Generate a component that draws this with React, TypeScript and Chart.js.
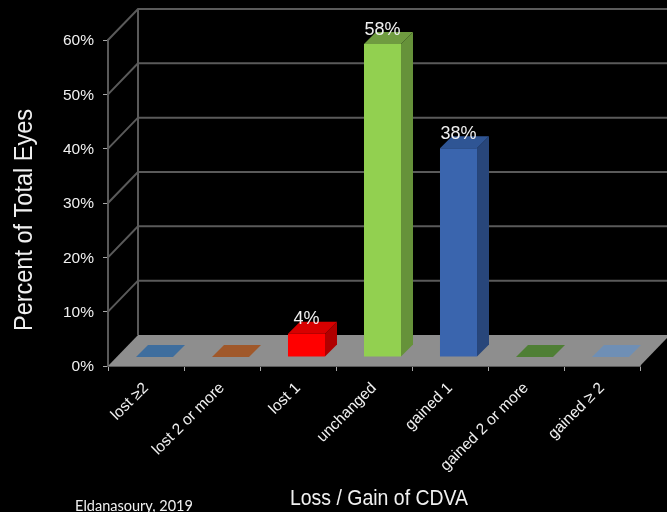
import React, { useEffect, useRef } from "react";
import { Chart, registerables } from "chart.js";

Chart.register(...registerables);

const categories = ["lost ≥2", "lost 2 or more", "lost 1", "unchanged", "gained 1", "gained 2 or more", "gained ≥ 2"];
const percentEyes = [0, 0, 4.3, 57.6, 38.4, 0, 0];
const frontColors = ["#3F6E9E", "#A0582A", "#FF0000", "#92D050", "#3A65AE", "#4F7F35", "#6F8FB5"];
const topColors = ["#3F6E9E", "#A0582A", "#D80000", "#6F9B40", "#2F5594", "#4F7F35", "#6F8FB5"];
const sideColors = ["#3F6E9E", "#A0582A", "#B00000", "#66923A", "#28467A", "#4F7F35", "#6F8FB5"];
const yTitle = "Percent of Total Eyes";
const xTitle = "Loss / Gain of CDVA";
const credit = "Eldanasoury, 2019";

const FONT = "'Liberation Sans', Arial, sans-serif";
const TEXT = "#F0F0F0";
const WALL_DX = 30;
const WALL_DY = 31;
const BAR_DX = 8.5;
const BAR_DY = 9;
const BAR_DEPTH = 12;
const LINE = "#5a5a5a";

const poly = (ctx: CanvasRenderingContext2D, pts: number[][], fill: string) => {
  ctx.beginPath();
  pts.forEach(([x, y], i) => (i ? ctx.lineTo(x, y) : ctx.moveTo(x, y)));
  ctx.closePath();
  ctx.fillStyle = fill;
  ctx.fill();
};

const box3d = {
  id: "box3d",
  beforeDatasetsDraw(chart: any) {
    const { ctx, chartArea: a, scales } = chart;
    const y = scales.y;
    ctx.save();
    ctx.strokeStyle = LINE;
    ctx.lineWidth = 2;
    y.ticks.forEach((t: any) => {
      const py = y.getPixelForValue(t.value);
      if (t.value > 0) {
        ctx.beginPath();
        ctx.moveTo(a.left, py);
        ctx.lineTo(a.left + WALL_DX, py - WALL_DY);
        ctx.lineTo(chart.width, py - WALL_DY);
        ctx.stroke();
      }
    });
    ctx.beginPath();
    ctx.moveTo(a.left + WALL_DX, a.top - WALL_DY);
    ctx.lineTo(a.left + WALL_DX, a.bottom - WALL_DY);
    ctx.stroke();
    poly(
      ctx,
      [
        [a.left, a.bottom],
        [a.right, a.bottom],
        [a.right + WALL_DX, a.bottom - WALL_DY],
        [a.left + WALL_DX, a.bottom - WALL_DY],
      ],
      "#8E8E8E"
    );
    ctx.restore();
  },
  beforeDatasetDraw(chart: any, args: any) {
    const { ctx } = chart;
    ctx.save();
    ctx.translate(BAR_DX, -BAR_DY);
    args.meta.data.forEach((bar: any, i: number) => {
      const { x, y, base, width } = bar.getProps(["x", "y", "base", "width"], true);
      const l = x - width / 2;
      const r = x + width / 2;
      if (percentEyes[i] > 0) {
        poly(ctx, [[r, y], [r + BAR_DEPTH, y - BAR_DEPTH], [r + BAR_DEPTH, base - BAR_DEPTH], [r, base]], sideColors[i]);
      }
      poly(ctx, [[l, y], [r, y], [r + BAR_DEPTH, y - BAR_DEPTH], [l + BAR_DEPTH, y - BAR_DEPTH]], topColors[i]);
    });
  },
  afterDatasetDraw(chart: any, args: any) {
    const { ctx } = chart;
    ctx.fillStyle = TEXT;
    ctx.font = `18px ${FONT}`;
    ctx.textAlign = "center";
    ctx.textBaseline = "middle";
    args.meta.data.forEach((bar: any, i: number) => {
      if (percentEyes[i] > 0) ctx.fillText(`${Math.round(percentEyes[i])}%`, bar.x, bar.y - 14.5);
    });
    ctx.restore();
  },
  afterDraw(chart: any) {
    const { ctx } = chart;
    ctx.save();
    ctx.fillStyle = TEXT;
    ctx.textBaseline = "alphabetic";
    ctx.textAlign = "center";

    ctx.save();
    ctx.translate(379, 505);
    ctx.scale(0.885, 1);
    ctx.font = `22px ${FONT}`;
    ctx.fillText(xTitle, 0, 0);
    ctx.restore();

    ctx.font = `14.5px Lato, sans-serif`;
    ctx.fillText(credit, 134, 511);

    ctx.translate(32, 220);
    ctx.rotate(-Math.PI / 2);
    ctx.scale(0.94, 1);
    ctx.font = `25px ${FONT}`;
    ctx.fillText(yTitle, 0, 0);
    ctx.restore();
  },
};

export default function App() {
  const ref = useRef<HTMLCanvasElement>(null);
  useEffect(() => {
    document.body.style.margin = "0";
    document.body.style.background = "#000";
    const chart = new Chart(ref.current!, {
      type: "bar",
      data: {
        labels: categories,
        datasets: [
          {
            data: percentEyes,
            backgroundColor: frontColors,
            borderWidth: 0,
            barPercentage: 0.487,
            categoryPercentage: 1,
          },
        ],
      },
      plugins: [box3d],
      options: {
        animation: false,
        responsive: false,
        layout: { padding: { top: 40, right: 27, left: 0, bottom: 0 } },
        plugins: { legend: { display: false }, tooltip: { enabled: false } },
        scales: {
          x: {
            afterFit: (s: any) => {
              s.height = 146;
            },
            grid: { drawOnChartArea: false, color: "#a8a8a8", tickLength: 5, lineWidth: 1 },
            border: { color: LINE, width: 2 },
            ticks: {
              color: TEXT,
              font: { family: FONT, size: 15.5 },
              minRotation: 45,
              maxRotation: 45,
              autoSkip: false,
              padding: 8,
            },
          },
          y: {
            min: 0,
            max: 60,
            afterFit: (s: any) => {
              s.width = 108;
            },
            grid: { drawOnChartArea: false, color: "#a8a8a8", tickLength: 5, lineWidth: 1 },
            border: { color: LINE, width: 2 },
            ticks: {
              stepSize: 10,
              color: TEXT,
              font: { family: FONT, size: 15.5 },
              padding: 9,
              labelOffset: 1,
              callback: (v: any) => `${v}%`,
            },
          },
        },
      },
    } as any);
    return () => chart.destroy();
  }, []);
  return (
    <canvas
      ref={ref}
      width={667}
      height={512}
      style={{ display: "block", width: 667, height: 512, background: "#000", filter: "blur(0.7px)" }}
    />
  );
}
